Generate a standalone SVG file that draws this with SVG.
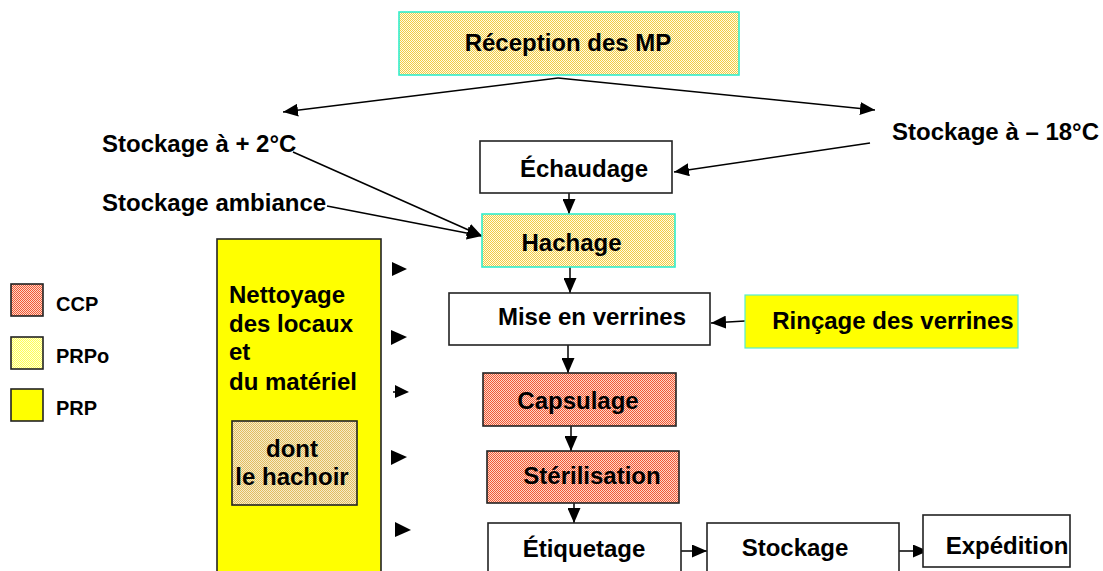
<svg xmlns="http://www.w3.org/2000/svg" width="1103" height="571" viewBox="0 0 1103 571">
<style>
text{font-family:"Liberation Sans",Arial,sans-serif;font-weight:bold;fill:#000}
.t{font-size:24px;text-anchor:middle}
.l{font-size:24px}
.lg{font-size:20px}
.box{stroke:#222;stroke-width:1.6}
.cy{stroke:#33eecc;stroke-width:1.6}
.ln{stroke:#000;stroke-width:1.5;fill:none}
.hd{fill:#000}
</style>
<defs>
<pattern id="pGold" width="2" height="2" patternUnits="userSpaceOnUse">
<rect width="2" height="2" fill="#fffbe6"/><rect width="1" height="1" fill="#f2cc44"/><rect x="1" y="1" width="1" height="1" fill="#f2cc44"/>
</pattern>
<pattern id="pRed" width="2" height="2" patternUnits="userSpaceOnUse">
<rect width="2" height="2" fill="#ffd6c8"/><rect width="1" height="1" fill="#f05a36"/><rect x="1" y="1" width="1" height="1" fill="#f05a36"/>
</pattern>
<pattern id="pLight" width="2" height="2" patternUnits="userSpaceOnUse">
<rect width="2" height="2" fill="#ffffd8"/><rect width="1" height="1" fill="#ffff55"/><rect x="1" y="1" width="1" height="1" fill="#ffff55"/>
</pattern>
<pattern id="pTan" width="2" height="2" patternUnits="userSpaceOnUse">
<rect width="2" height="2" fill="#f6ecc8"/><rect width="1" height="1" fill="#e2bc60"/><rect x="1" y="1" width="1" height="1" fill="#e2bc60"/>
</pattern>
<marker id="ah" markerUnits="userSpaceOnUse" markerWidth="16" markerHeight="13" refX="15" refY="6.5" orient="auto">
<path d="M0,0 L15,6.5 L0,13 z" fill="#000"/>
</marker>
</defs>

<g id="legend">
<rect x="11" y="284" width="32" height="32" fill="url(#pRed)" class="box"/>
<text x="56" y="311" class="lg">CCP</text>
<rect x="11" y="337" width="32" height="32" fill="url(#pLight)" class="box"/>
<text x="56" y="363" class="lg">PRPo</text>
<rect x="11" y="389" width="32" height="32" fill="#ffff00" class="box"/>
<text x="56" y="415" class="lg">PRP</text>
</g>

<g id="connectors">
<path class="ln" d="M558,78 L283,112" marker-end="url(#ah)"/>
<path class="ln" d="M558,78 L875,110" marker-end="url(#ah)"/>
<path class="ln" d="M870,143 L674,172" marker-end="url(#ah)"/>
<path class="ln" d="M293,152 L482,236" marker-end="url(#ah)"/>
<path class="ln" d="M327,206 L482,236" marker-end="url(#ah)"/>
<path class="ln" d="M569,193 L569,214" marker-end="url(#ah)"/>
<path class="ln" d="M570,267 L570,293" marker-end="url(#ah)"/>
<path class="ln" d="M745,321 L711,323" marker-end="url(#ah)"/>
<path class="ln" d="M568,345 L568,373" marker-end="url(#ah)"/>
<path class="ln" d="M571,426 L571,451" marker-end="url(#ah)"/>
<path class="ln" d="M574,503 L574,523" marker-end="url(#ah)"/>
<path class="ln" d="M681,551 L707,551" marker-end="url(#ah)"/>
<path class="ln" d="M899,551 L928,551" marker-end="url(#ah)"/>
<polygon class="hd" points="392,262 407,269 392,276"/>
<polygon class="hd" points="391,330 407,337 391,345"/>
<line class="ln" x1="393" y1="392" x2="397" y2="392"/>
<polygon class="hd" points="395,385 409,392 395,398"/>
<polygon class="hd" points="391,450 407,457 391,465"/>
<polygon class="hd" points="395,522 411,530 395,537"/>
</g>

<g id="reception">
<rect x="399" y="12" width="340" height="63" fill="url(#pGold)" class="cy"/>
<text x="568" y="51" class="t">Réception des MP</text>
</g>

<g id="stock2">
<text x="102" y="152" class="l">Stockage à + 2°C</text>
</g>
<g id="stockamb">
<text x="102" y="211" class="l">Stockage ambiance</text>
</g>
<g id="stock18">
<text x="892" y="140" class="l">Stockage à – 18°C</text>
</g>

<g id="echaudage">
<rect x="480" y="141" width="192" height="52" fill="#fff" class="box"/>
<text x="584" y="177" class="t">Échaudage</text>
</g>

<g id="hachage">
<rect x="482" y="214" width="193" height="53" fill="url(#pGold)" class="cy"/>
<text x="571.5" y="251" class="t">Hachage</text>
</g>

<g id="mise">
<rect x="449" y="293" width="261" height="52" fill="#fff" class="box"/>
<text x="592" y="325" class="t">Mise en verrines</text>
</g>

<g id="rincage">
<rect x="745" y="295" width="273" height="53" fill="#ffff00" stroke="#55eecc" stroke-width="1.2"/>
<text x="893" y="329" class="t">Rinçage des verrines</text>
</g>

<g id="capsulage">
<rect x="483" y="373" width="193" height="53" fill="url(#pRed)" class="box"/>
<text x="578" y="409" class="t">Capsulage</text>
</g>

<g id="sterilisation">
<rect x="487" y="451" width="192" height="52" fill="url(#pRed)" class="box"/>
<text x="592" y="484" class="t">Stérilisation</text>
</g>

<g id="etiquetage">
<rect x="488" y="523" width="193" height="60" fill="#fff" class="box"/>
<text x="584" y="557" class="t">Étiquetage</text>
</g>

<g id="stockage">
<rect x="707" y="523" width="192" height="60" fill="#fff" class="box"/>
<text x="795" y="556" class="t">Stockage</text>
</g>

<g id="expedition">
<rect x="923" y="515" width="147" height="52" fill="#fff" class="box"/>
<text x="1007" y="554" class="t">Expédition</text>
</g>

<g id="nettoyage">
<rect x="217" y="239" width="164" height="345" fill="#ffff00" class="box"/>
<text x="229" y="303" class="l">Nettoyage</text>
<text x="229" y="332" class="l">des locaux</text>
<text x="229" y="360" class="l">et</text>
<text x="229" y="390" class="l">du matériel</text>
</g>

<g id="hachoir">
<rect x="232" y="421" width="125" height="84" fill="url(#pTan)" class="box"/>
<text x="292" y="457" class="t">dont</text>
<text x="292" y="485" class="t">le hachoir</text>
</g>
</svg>
